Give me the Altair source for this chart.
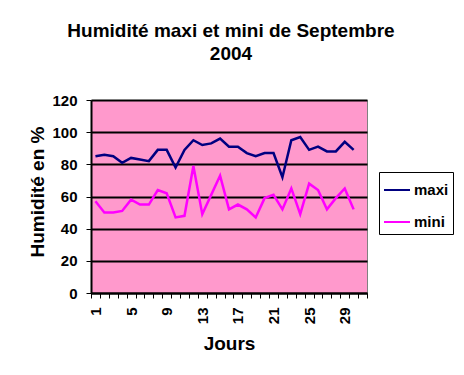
import altair as alt
import pandas as pd

days = list(range(1, 31))
day_slots = list(range(1, 32))
maxi = [85, 86, 85, 81, 84, 83, 82, 89, 89, 78, 89, 95, 92, 93, 96, 91, 91, 87, 85, 87, 87, 72, 95, 97, 89, 91, 88, 88, 94, 89]
mini = [57, 50, 50, 51, 58, 55, 55, 64, 62, 47, 48, 79, 49, 61, 73, 52, 55, 52, 47, 59, 61, 52, 65, 49, 68, 64, 52, 59, 65, 52]
series = ["maxi", "mini"]
colors = ["#000080", "#FF00FF"]
y_ticks = [0, 20, 40, 60, 80, 100, 120]

rows = []
for d, a, b in zip(days, maxi, mini):
    rows.append({"jour": d, "serie": "maxi", "valeur": a})
    rows.append({"jour": d, "serie": "mini", "valeur": b})
df = pd.DataFrame(rows)

FONT = "Liberation Sans"

chart = alt.Chart(df).mark_line(strokeWidth=2.5).encode(
    x=alt.X(
        "jour:O",
        bandPosition=0.5,
        scale=alt.Scale(type="band", domain=day_slots, paddingInner=0, paddingOuter=0),
        axis=alt.Axis(
            title="Jours",
            titleFont=FONT, titleFontSize=19, titleFontWeight="bold", titleColor="black",
            titleY=56, titleBaseline="alphabetic",
            labelExpr="(datum.value - 1) % 4 == 0 ? datum.label : ''",
            labelAngle=-90, labelAlign="right", labelBaseline="middle",
            labelFont=FONT, labelFontSize=15, labelFontWeight="bold", labelColor="black",
            labelPadding=9, labelOverlap=False,
            tickBand="extent", tickSize=5, tickColor="black", tickWidth=1,
            domainColor="black", domainWidth=2, grid=False,
        ),
    ),
    y=alt.Y(
        "valeur:Q",
        scale=alt.Scale(domain=[0, 120], nice=False),
        axis=alt.Axis(
            title="Humidité en %",
            titleFont=FONT, titleFontSize=19, titleFontWeight="bold", titleColor="black",
            titleX=-54, titleY=91.5, titleBaseline="middle", titleAngle=-90,
            values=y_ticks,
            labelFont=FONT, labelFontSize=15, labelFontWeight="bold", labelColor="black",
            labelPadding=9,
            tickSize=5, tickColor="black", tickWidth=1,
            domainColor="black", domainWidth=2,
            grid=True, gridColor="black", gridWidth=2,
        ),
    ),
    color=alt.Color(
        "serie:N",
        scale=alt.Scale(domain=series, range=colors),
        legend=alt.Legend(
            title=None, orient="none", legendX=288, legendY=72,
            symbolType="stroke", symbolSize=676, symbolStrokeWidth=2,
            labelFont=FONT, labelFontSize=15, labelFontWeight="bold", labelColor="black",
            labelOffset=3, rowPadding=10, padding=4,
            strokeColor="black", fillColor="white",
        ),
    ),
).properties(
    width=276,
    height=193,
    background="white",
    padding={"left": 83, "top": 92, "right": 89, "bottom": 74},
    autosize=alt.AutoSizeParams(type="none"),
    title=alt.TitleParams(
        text=["Humidité maxi et mini de Septembre", "2004"],
        font=FONT, fontSize=19, fontWeight="bold", color="black",
        anchor="middle", lineHeight=23, offset=29, dx=2,
    ),
).configure_view(
    fill="#FF99CC", stroke="#808080", strokeWidth=1,
)

chart.save("out.html", embed_options={"renderer": "svg", "actions": False})
